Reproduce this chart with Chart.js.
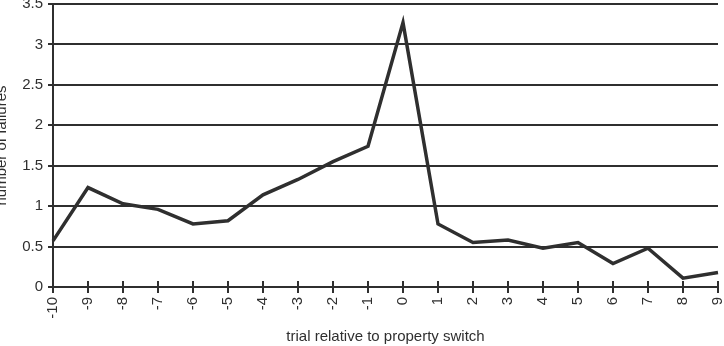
<!DOCTYPE html>
<html>
<head>
<meta charset="utf-8">
<script src="https://cdn.jsdelivr.net/npm/chart.js@4/dist/chart.umd.min.js"></script>
<style>
  html, body { margin: 0; padding: 0; background: #fff; }
  #wrap { position: relative; width: 724px; height: 346px; overflow: hidden; }
  #chart { position: absolute; left: -14px; top: -10px; }
</style>
</head>
<body>
<div id="wrap"><canvas id="chart" width="752" height="362"></canvas></div>
<script>
const trials = ['-10', '-9', '-8', '-7', '-6', '-5', '-4', '-3', '-2', '-1',
                '0', '1', '2', '3', '4', '5', '6', '7', '8', '9'];
const failures = [0.57, 1.23, 1.03, 0.96, 0.78, 0.82, 1.14, 1.33, 1.55, 1.74,
                  3.27, 0.78, 0.55, 0.58, 0.48, 0.55, 0.29, 0.48, 0.11, 0.18];

const ink = '#2f2f2f';
const fontFamily = '"Liberation Sans Narrow", "Arial Narrow", "Liberation Sans", Arial, sans-serif';

// excel style tick marks that cross the category axis
const crossTicks = {
    id: 'crossTicks',
    afterDraw(chart) {
        const x = chart.scales.x;
        const ctx = chart.ctx;
        const y0 = chart.chartArea.bottom;
        ctx.save();
        ctx.strokeStyle = ink;
        ctx.lineWidth = 2;
        ctx.beginPath();
        x.ticks.forEach((t, i) => {
            const px = x.getPixelForTick(i);
            ctx.moveTo(px, y0 - 6);
            ctx.lineTo(px, y0 + 6);
        });
        ctx.stroke();
        ctx.restore();
    }
};

new Chart(document.getElementById('chart'), {
    type: 'line',
    data: {
        labels: trials,
        datasets: [{
            label: 'failures',
            data: failures,
            borderColor: ink,
            borderWidth: 3.5,
            pointRadius: 0,
            tension: 0,
            fill: false
        }]
    },
    options: {
        responsive: false,
        animation: false,
        layout: { padding: { left: 0, right: 8, top: 0, bottom: 0 } },
        plugins: {
            legend: { display: false },
            tooltip: { enabled: false }
        },
        scales: {
            x: {
                offset: false,
                grid: { display: false, drawOnChartArea: false },
                border: { display: true, color: ink, width: 2 },
                ticks: {
                    color: ink,
                    font: { family: fontFamily, size: 15 },
                    minRotation: 90,
                    maxRotation: 90,
                    autoSkip: false,
                    padding: 2
                },
                title: {
                    display: true,
                    text: 'trial relative to property switch',
                    color: ink,
                    font: { family: fontFamily, size: 15 },
                    padding: { top: 10, bottom: 6 }
                },
                afterFit(scale) { scale.height = 65; }
            },
            y: {
                min: 0,
                max: 3.5,
                grid: {
                    color: ink,
                    lineWidth: 2,
                    tickLength: 5,
                    drawTicks: true
                },
                border: { display: true, color: ink, width: 2 },
                ticks: {
                    stepSize: 0.5,
                    color: ink,
                    font: { family: fontFamily, size: 15 },
                    padding: 5,
                    callback: v => String(v)
                },
                title: {
                    display: true,
                    text: 'number of failures',
                    color: ink,
                    font: { family: fontFamily, size: 15 },
                    padding: { top: 7, bottom: 4 }
                },
                afterFit(scale) { scale.width = 67; }
            }
        }
    },
    plugins: [crossTicks]
});
</script>
</body>
</html>
